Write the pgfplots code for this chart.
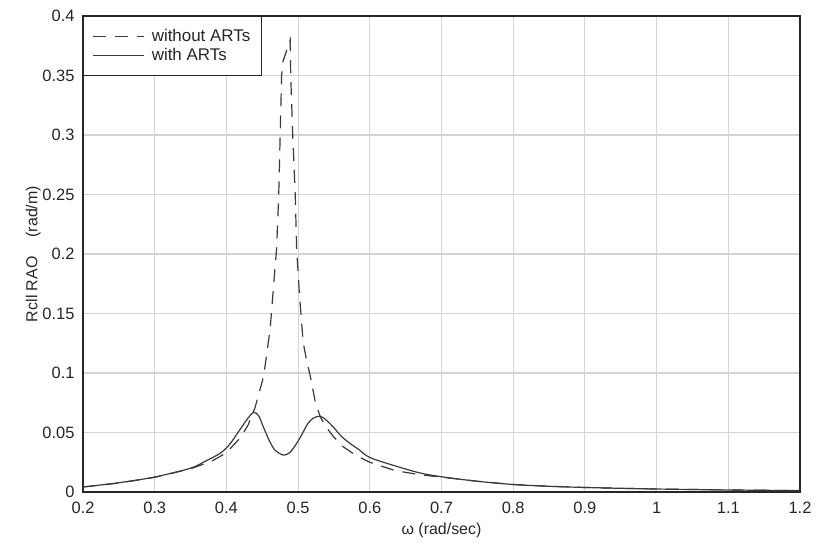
\documentclass[border=0pt]{standalone}
\usepackage{fontspec}
\setmainfont{Liberation Sans}
\usepackage{pgfplots}
\pgfplotsset{compat=1.18}
\definecolor{curve}{HTML}{3A3A3A}
\definecolor{gridc}{HTML}{D4D4D4}
\begin{document}
\begin{tikzpicture}
\begin{axis}[
  name=ax,
  scale only axis,
  width=717bp, height=476bp,
  xmin=0.2, xmax=1.2, ymin=0, ymax=0.4,
  xtick={0.2,0.3,...,1.2},
  ytick={0,0.05,...,0.4},
  grid=major,
  major grid style={draw=gridc, line width=1.1pt},
  axis line style={draw=black!85, line width=1.3pt},
  major tick length=0pt,
  /pgf/number format/assume math mode=true,
  /pgf/number format/fixed,
  /pgf/number format/precision=2,
  tick label style={font=\fontsize{16.5}{19}\selectfont, text=black!85},
  xticklabel style={yshift=-7bp},
  yticklabel style={xshift=-5bp},
  xlabel={ω (rad/sec)},
  ylabel={Rcll RAO\hspace{1.2em}(rad/m)},
  label style={font=\fontsize{16}{19}\selectfont, text=black!85},
  xlabel style={yshift=-2bp},
  ylabel style={yshift=-5bp},
  legend style={at={(0,1)}, anchor=north west, draw=black!85, line width=1.2pt,
    font=\fontsize{17}{20}\selectfont, text=black!85, inner xsep=9bp, inner ysep=11bp,
    cells={anchor=west}, row sep=1bp},
  legend image code/.code={\draw[#1] (0bp,0bp) -- (51bp,0bp); \path (56bp,0bp);},
]
\addplot[curve, line width=1.2pt, dash pattern=on 13bp off 9bp] coordinates {
(0.20,0.0042) (0.25,0.0075) (0.30,0.0123) (0.35,0.0195) (0.38,0.026) (0.40,0.033)
(0.42,0.046) (0.43,0.056) (0.44,0.071) (0.452,0.0975) (0.461,0.137) (0.468,0.19)
(0.470,0.204) (0.473,0.25) (0.475,0.30) (0.477,0.35) (0.479,0.362) (0.489,0.380)
(0.4897,0.35) (0.4925,0.30) (0.496,0.25) (0.498,0.204) (0.502,0.165) (0.507,0.126)
(0.512,0.110) (0.517,0.0975) (0.524,0.0756) (0.531,0.063) (0.539,0.0546) (0.55,0.046)
(0.563,0.038) (0.58,0.031) (0.60,0.025) (0.635,0.018) (0.67,0.0145) (0.70,0.0125)
(0.75,0.009) (0.80,0.0063) (0.85,0.0048) (0.90,0.0038) (0.95,0.0031) (1.00,0.0025)
(1.10,0.0017) (1.20,0.0012)
};
\addlegendentry{without ARTs}
\addplot[curve, line width=1.2pt, smooth] coordinates {
(0.20,0.0042) (0.25,0.0078) (0.30,0.0126) (0.35,0.020) (0.371,0.026) (0.39,0.032)
(0.40,0.037) (0.407,0.042) (0.415,0.049) (0.423,0.056) (0.43,0.062) (0.438,0.067)
(0.445,0.064) (0.452,0.054) (0.46,0.043) (0.468,0.035) (0.4796,0.031) (0.488,0.033)
(0.496,0.039) (0.505,0.048) (0.513,0.057) (0.521,0.062) (0.531,0.0637) (0.54,0.060)
(0.55,0.054) (0.56,0.047) (0.572,0.041) (0.584,0.036) (0.60,0.029) (0.635,0.022)
(0.67,0.016) (0.70,0.0128) (0.75,0.009) (0.80,0.0063) (0.85,0.0048) (0.90,0.0038)
(0.95,0.0031) (1.00,0.0025) (1.10,0.0017) (1.20,0.0012)
};
\addlegendentry{with ARTs}
\end{axis}
\path (ax.south west) ++(-83bp,-54bp);
\path (ax.north east) ++(16bp,16bp);
\end{tikzpicture}
\end{document}
